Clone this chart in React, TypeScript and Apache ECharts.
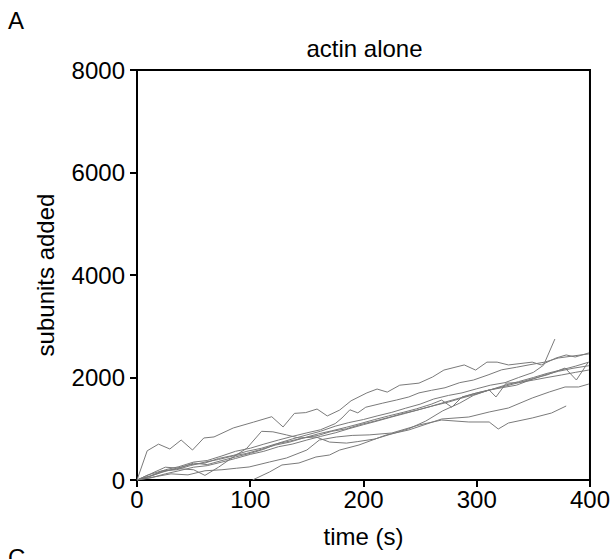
import React, { useEffect, useRef } from "react";
import * as echarts from "echarts";

const xTicks = [0, 100, 200, 300, 400];
const yTicks = [0, 2000, 4000, 6000, 8000];

const trace1: number[][] = [[0,0],[9,570],[19,700],[29,605],[39,780],[49,585],[59,820],[68,840],[85,1015],[103,1130],[119,1235],[129,1035],[139,1300],[149,1315],[159,1385],[168,1250],[179,1365],[189,1545],[203,1700],[212,1775],[221,1715],[232,1850],[249,1890],[261,2010],[271,2145],[289,2245],[299,2145],[309,2300],[318,2300],[328,2245],[349,2300],[357,2245],[370,2380],[379,2440],[387,2400],[399,2480]];
const trace2: number[][] = [[0,0],[12,80],[25,200],[37,260],[50,350],[62,380],[75,470],[87,560],[100,620],[112,700],[125,780],[137,850],[150,920],[162,980],[175,1100],[181,1210],[188,1370],[195,1310],[202,1420],[217,1500],[229,1560],[240,1620],[249,1700],[260,1750],[272,1800],[285,1900],[297,1950],[310,2050],[322,2150],[335,2200],[347,2250],[360,2300],[372,2380],[385,2420],[399,2460]];
const traceLate: number[][] = [[102,0],[117,156],[128,293],[143,332],[158,449],[170,488],[179,585],[196,683],[220,878],[240,976],[269,1190],[293,1229],[311,1327],[328,1405],[349,1600],[364,1717],[378,1815],[390,1815],[399,1873]];
const traceLow: number[][] = [[0,0],[15,60],[30,120],[45,100],[60,180],[75,200],[88,230],[99,254],[117,351],[132,429],[150,585],[161,780],[176,839],[190,870],[205,880],[225,917],[249,1073],[269,1170],[293,1132],[311,1132],[319,995],[328,1112],[349,1210],[366,1307],[379,1444]];
const traceDip: number[][] = [[0,0],[12,80],[25,180],[37,220],[50,200],[60,90],[72,250],[85,450],[97,620],[110,950],[120,940],[132,880],[143,820],[158,840],[170,740],[185,720],[195,750],[210,800],[225,900],[240,1000],[255,1150],[270,1350],[285,1500],[297,1650],[310,1750],[322,1800],[335,1850],[347,1950],[360,2050],[372,2120],[385,2180],[399,2230]];
const traceB1: number[][] = [[0,0],[10,60],[22,150],[35,230],[47,300],[60,330],[72,420],[85,480],[97,560],[110,620],[122,700],[135,760],[147,820],[160,900],[172,960],[185,1030],[197,1100],[210,1180],[222,1250],[235,1320],[247,1390],[260,1480],[269,1560],[278,1420],[287,1620],[300,1700],[312,1760],[325,1850],[337,1920],[350,2000],[362,2080],[375,2150],[387,2220],[399,2300]];
const traceB2: number[][] = [[0,0],[10,100],[22,180],[35,200],[47,280],[60,350],[72,400],[85,470],[97,520],[110,600],[122,680],[135,740],[147,820],[160,870],[172,950],[185,1000],[197,1080],[210,1150],[222,1220],[235,1300],[247,1360],[260,1440],[272,1520],[285,1600],[297,1680],[311,1756],[317,1620],[326,1890],[337,1900],[350,1950],[362,2000],[375,2050],[387,2100],[399,2146]];
const traceSpike: number[][] = [[0,0],[12,120],[25,250],[37,230],[50,330],[62,300],[75,380],[87,450],[100,520],[112,600],[125,720],[137,800],[150,880],[162,950],[175,1050],[187,1120],[200,1180],[212,1250],[225,1320],[237,1400],[250,1480],[262,1580],[275,1650],[287,1700],[300,1780],[312,1850],[325,1900],[337,2000],[350,2100],[359,2240],[369,2750]];
const traceB3: number[][] = [[0,0],[12,40],[25,120],[37,180],[50,250],[62,280],[75,350],[87,420],[100,500],[112,560],[125,650],[137,700],[150,780],[162,850],[175,920],[187,1000],[200,1080],[212,1150],[225,1230],[237,1300],[250,1380],[262,1450],[275,1520],[287,1600],[300,1680],[312,1760],[325,1830],[337,1900],[350,1980],[362,2050],[378,2185],[388,1951],[398,2283]];

const traces = [trace1, trace2, traceLate, traceLow, traceDip, traceB1, traceB2, traceSpike, traceB3];

const FONT = "'Liberation Sans', Arial, sans-serif";

export default function App() {
  const ref = useRef<HTMLDivElement>(null);
  useEffect(() => {
    if (!ref.current) return;
    const chart = echarts.init(ref.current, null, { renderer: "svg" });
    chart.setOption({
      animation: false,
      backgroundColor: "#fff",
      grid: {
        left: 137,
        right: 21,
        top: 70,
        bottom: 79,
        show: true,
        borderColor: "#000",
        borderWidth: 2,
        backgroundColor: "transparent",
      },
      xAxis: {
        type: "value",
        min: xTicks[0],
        max: xTicks[xTicks.length - 1],
        interval: 100,
        name: "time (s)",
        nameLocation: "middle",
        nameGap: 44,
        nameTextStyle: { fontFamily: FONT, fontSize: 24, color: "#000" },
        axisLine: { show: true, lineStyle: { color: "#000", width: 2 } },
        axisTick: { show: true, inside: false, length: 7, lineStyle: { color: "#000", width: 2 } },
        axisLabel: { fontFamily: FONT, fontSize: 24, color: "#000", margin: 7, formatter: (v: number) => String(v) },
        splitLine: { show: false },
      },
      yAxis: {
        type: "value",
        min: yTicks[0],
        max: yTicks[yTicks.length - 1],
        interval: 2000,
        name: "subunits added",
        nameLocation: "middle",
        nameGap: 80,
        nameTextStyle: { fontFamily: FONT, fontSize: 24, color: "#000" },
        axisLine: { show: true, lineStyle: { color: "#000", width: 2 } },
        axisTick: { show: true, inside: false, length: 7, lineStyle: { color: "#000", width: 2 } },
        axisLabel: { fontFamily: FONT, fontSize: 24, color: "#000", margin: 12, formatter: (v: number) => String(v) },
        splitLine: { show: false },
      },
      graphic: [
        { type: "text", left: 8, top: 8, style: { text: "A", fontFamily: FONT, fontSize: 24, fill: "#000" } },
        { type: "text", left: 8, top: 545, style: { text: "C", fontFamily: FONT, fontSize: 24, fill: "#000" } },
        { type: "text", x: 364.5, y: 36, style: { text: "actin alone", fontFamily: FONT, fontSize: 24, fill: "#000", align: "center" } },
      ],
      series: traces.map((d) => ({
        type: "line",
        data: d,
        showSymbol: false,
        silent: true,
        clip: true,
        lineStyle: { color: "#7a7a7a", width: 1 },
      })),
    });
    return () => chart.dispose();
  }, []);
  return <div ref={ref} style={{ position: "fixed", left: 0, top: 0, width: 613, height: 559 }} />;
}
